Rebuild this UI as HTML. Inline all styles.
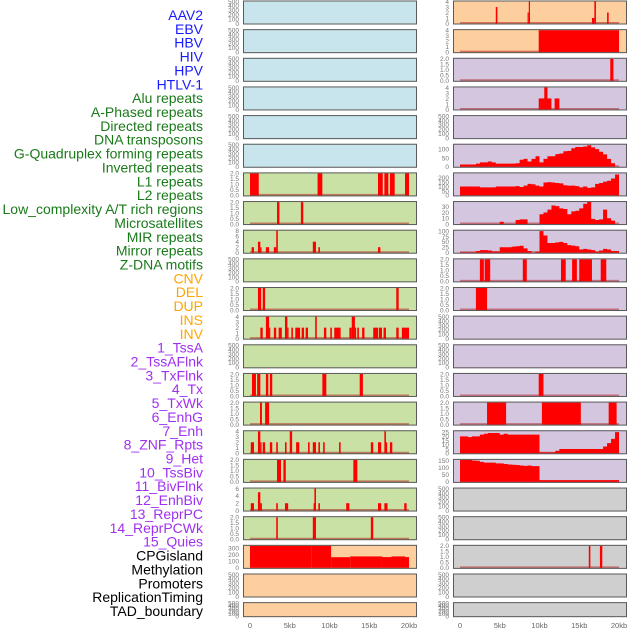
<!DOCTYPE html>
<html><head><meta charset="utf-8">
<style>
html,body{margin:0;padding:0;background:#fff;width:630px;height:630px;overflow:hidden}
svg{display:block}
text{font-family:"Liberation Sans",sans-serif}
</style></head>
<body>
<svg id="chart" width="630" height="630" viewBox="0 0 630 630" xmlns="http://www.w3.org/2000/svg"></svg>
<script>
// ---- labels ----
const labelNames = ["AAV2","EBV","HBV","HIV","HPV","HTLV-1","Alu repeats","A-Phased repeats","Directed repeats","DNA transposons","G-Quadruplex forming repeats","Inverted repeats","L1 repeats","L2 repeats","Low_complexity A/T rich regions","Microsatellites","MIR repeats","Mirror repeats","Z-DNA motifs","CNV","DEL","DUP","INS","INV","1_TssA","2_TssAFlnk","3_TxFlnk","4_Tx","5_TxWk","6_EnhG","7_Enh","8_ZNF_Rpts","9_Het","10_TssBiv","11_BivFlnk","12_EnhBiv","13_ReprPC","14_ReprPCWk","15_Quies","CPGisland","Methylation","Promoters","ReplicationTiming","TAD_boundary"];
const labelGroups = [6,13,5,15,5];
const groupColors = ["#1a1aff","#1a7a1a","#ffa500","#a030f0","#000000"];
const xTickLabels = ["0","5kb","10kb","15kb","20kb"];
const xTickValues = [0,5,10,15,20];

// ---- left column bar data [startKb, endKb, value] ----
const L6 = [[0,1.1,2],[8.5,9.1,2],[16.1,16.7,2],[16.9,17.4,2],[17.6,18.2,2],[19.5,20,2]];
const L7 = [[3.4,3.7,2],[6.4,6.7,2]];
const L8 = [[0.2,0.5,2],[1.0,1.3,4],[1.3,1.45,2],[2.0,2.4,2],[3.0,3.3,2],[3.3,3.5,8],[7.9,8.3,4],[8.6,8.8,2],[16.1,16.4,2]];
const L10 = [[1.0,1.4,2],[1.6,1.9,2],[18.4,18.7,2]];
const L11 = [[1.3,1.6,2],[2.0,2.4,4],[2.4,2.55,2],[3.0,3.3,2],[3.6,4.0,2],[4.4,4.7,4],[4.7,4.85,2],[5.2,5.4,2],[5.7,6.3,2],[6.5,6.8,2],[7.0,7.3,2],[8.2,8.4,4],[9.3,9.6,2],[10.1,10.3,2],[10.6,11.2,2],[11.2,11.4,2],[12.5,12.8,2],[12.8,13.2,4],[13.2,13.35,2],[13.5,13.7,2],[14.1,14.4,2],[15.5,16.1,2],[16.2,16.6,2],[16.8,17.1,2],[18.4,18.7,2],[19.1,20.0,2]];
const L13 = [[0.25,0.75,2],[0.9,1.3,2],[2.0,2.3,2],[2.5,2.8,2],[9.1,9.6,2],[13.8,14.2,2]];
const L14 = [[1.26,1.5,2],[1.9,2.4,2]];
const L15 = [[0.1,0.5,2],[1.0,1.3,4],[1.3,1.45,2],[1.6,1.9,2],[2.5,2.8,2],[3.3,3.5,2],[4.4,4.6,2],[5.0,5.3,4],[5.8,6.2,2],[7.3,7.5,2],[7.9,8.3,2],[8.6,8.8,2],[9.2,9.4,2],[11.2,11.4,2],[15.2,15.5,2],[16.1,16.5,2],[16.9,17.1,4],[17.1,17.25,2],[17.6,17.9,2]];
const L16 = [[3.4,3.9,2],[4.2,4.5,2],[13.0,13.5,2]];
const L17 = [[0.1,0.5,2],[1.0,1.3,5],[1.3,1.5,2],[3.3,3.5,2],[4.4,4.8,2],[8.0,8.1,2],[8.1,8.3,6],[8.6,8.8,2],[12.1,12.5,2],[16.1,16.5,2],[16.9,17.3,2],[19.4,19.7,2]];
const L18 = [[3.3,3.5,2],[7.9,8.3,2],[15.2,15.5,2]];
const L19 = [[0,7.7,340],[7.7,10.2,345],[10.2,12.6,163],[12.6,16.6,175],[16.6,17.8,165],[17.8,19.5,175],[19.5,20,165]];

// ---- right column bar data ----
const R0 = [[4.5,4.7,3],[8.5,8.65,2],[8.65,8.8,4],[16.6,16.9,1],[16.9,17.1,4],[18.5,18.7,2]];
const R1 = [[9.9,20,4.2]];
const R2 = [[18.9,19.3,2]];
const R3 = [[9.9,11.5,2],[10.6,11.0,4],[11.9,12.5,2]];
const R9 = [[2.5,3.0,2],[3.1,3.8,2],[7.9,8.4,2],[12.7,13.3,2],[14.1,14.7,2],[15.0,16.6,2],[17.7,18.4,2]];
const R10 = [[2.0,3.4,2]];
const R13 = [[9.9,10.5,2]];
const R14 = [[3.4,5.8,2],[10.3,15.2,2],[18.7,19.7,2]];
const R19 = [[16.2,16.4,2],[17.6,17.9,2]];

// ---- right column area data: 40 bins of 0.5kb ----
const R5 = [13,13,13,13,18,25,25,30,25,18,18,18,18,18,20,40,45,30,45,60,25,45,60,60,72,75,88,90,105,112,112,115,122,110,100,85,70,45,20,0];
const R6 = [100,100,100,100,100,90,90,90,90,100,100,100,100,100,105,95,110,130,125,110,100,145,150,145,140,135,115,110,110,105,90,100,85,90,130,140,155,165,190,235];
const R7 = [0,0,0,0,0,0,0,0,0,0,4,0,0,0,7,8,8,0,0,0,17,20,25,32,31,27,26,17,22,23,27,35,38,9,7,8,25,10,6,0];
const R8 = [2,2,2,2,8,12,12,10,6,6,25,25,25,28,30,32,20,8,0,5,100,80,45,45,48,50,45,35,33,30,15,18,15,12,5,10,18,15,8,8];
const R15 = [20,20,19,20,20,22,23,24,24,24,22,23,22,22,22,22,22,22,22,22,1,1,1,1,3,5,5,5,5,5,5,5,5,5,5,5,8,12,17,25];
const R16 = [155,155,155,150,148,140,135,135,135,130,130,125,122,120,118,115,112,115,110,110,12,12,12,12,12,12,12,12,12,12,12,12,12,12,12,12,12,12,12,12];

const T2 = [0,0.5,1,1.5,2], T4=[0,1,2,3,4], T8=[0,2,4,6,8], T6=[0,2,4,6], TE=[0,100,200,300,400,500];
const BLUE="#c8e4ec", GREEN="#c9e1a5", ORANGE="#fecf9e", PURPLE="#d5c6e0", GRAY="#cfcfcf";

const leftTracks = [
 {bg:BLUE,ticks:TE,yMax:500},{bg:BLUE,ticks:TE,yMax:500},{bg:BLUE,ticks:TE,yMax:500},
 {bg:BLUE,ticks:TE,yMax:500},{bg:BLUE,ticks:TE,yMax:500},{bg:BLUE,ticks:TE,yMax:500},
 {bg:GREEN,ticks:T2,yMax:2,bars:L6},{bg:GREEN,ticks:T2,yMax:2,bars:L7},{bg:GREEN,ticks:T8,yMax:8,bars:L8},
 {bg:GREEN,ticks:TE,yMax:500},{bg:GREEN,ticks:T2,yMax:2,bars:L10},{bg:GREEN,ticks:T4,yMax:4,bars:L11},
 {bg:GREEN,ticks:TE,yMax:500},{bg:GREEN,ticks:T2,yMax:2,bars:L13},{bg:GREEN,ticks:T2,yMax:2,bars:L14},
 {bg:GREEN,ticks:T4,yMax:4,bars:L15},{bg:GREEN,ticks:T2,yMax:2,bars:L16},{bg:GREEN,ticks:T6,yMax:6,bars:L17},
 {bg:GREEN,ticks:T2,yMax:2,bars:L18},{bg:ORANGE,ticks:[0,100,200,300],yMax:337,bars:L19,nobase:true},
 {bg:ORANGE,ticks:TE,yMax:500},{bg:ORANGE,ticks:TE,yMax:500}
];
const rightTracks = [
 {bg:ORANGE,ticks:T4,yMax:4,bars:R0},{bg:ORANGE,ticks:T4,yMax:4,bars:R1},{bg:PURPLE,ticks:T2,yMax:2,bars:R2},
 {bg:PURPLE,ticks:T4,yMax:4,bars:R3},{bg:PURPLE,ticks:TE,yMax:500},{bg:PURPLE,ticks:[0,50,100],yMax:125,area:R5},
 {bg:PURPLE,ticks:[0,50,100,150,200],yMax:248,area:R6},{bg:PURPLE,ticks:[0,10,20,30],yMax:38,area:R7},
 {bg:PURPLE,ticks:[0,25,50,75,100],yMax:102,area:R8},{bg:PURPLE,ticks:T2,yMax:2,bars:R9},
 {bg:PURPLE,ticks:T2,yMax:2,bars:R10},{bg:PURPLE,ticks:TE,yMax:500},{bg:PURPLE,ticks:TE,yMax:500},
 {bg:PURPLE,ticks:T2,yMax:2,bars:R13},{bg:PURPLE,ticks:T2,yMax:2,bars:R14},
 {bg:PURPLE,ticks:[0,5,10,15,20,25],yMax:26,area:R15},{bg:PURPLE,ticks:[0,50,100,150],yMax:154,area:R16},
 {bg:GRAY,ticks:TE,yMax:500},{bg:GRAY,ticks:TE,yMax:500},{bg:GRAY,ticks:T2,yMax:2,bars:R19},
 {bg:GRAY,ticks:TE,yMax:500},{bg:GRAY,ticks:TE,yMax:500}
];

const NS="http://www.w3.org/2000/svg";
const svg=document.getElementById('chart');
function mk(tag,attrs,parent){const e=document.createElementNS(NS,tag);for(const k in attrs)e.setAttribute(k,attrs[k]);(parent||svg).appendChild(e);return e;}

// labels
let li=0;
labelGroups.forEach((n,g)=>{for(let j=0;j<n;j++){
  const t=mk('text',{x:203,y:15+li*13.86+5,'text-anchor':'end','font-size':14,fill:groupColors[g]});
  t.textContent=labelNames[li];
  
  
  li++;}});

function fmt(v,ticks){return ticks.some(t=>t%1!==0)?v.toFixed(1):String(v);}

function drawColumn(tracks,x0,x1,xZero,colName){
  const kb=v=>xZero+v*7.95;
  tracks.forEach((tr,i)=>{
    const top=i*28.65+0.5, h=(i===21)?15:24, bot=top+h;
    const g=mk('g',{});
    
    
    mk('rect',{x:x0,y:top,width:x1-x0,height:h,fill:tr.bg},g);
    const y=v=>bot-1-Math.min(v,tr.yMax)/tr.yMax*(h-2);
    if(tr.bars||tr.area){
      if(!tr.nobase) mk('line',{x1:kb(0),x2:kb(20),y1:bot-1.5,y2:bot-1.5,stroke:'rgba(170,0,0,0.45)','stroke-width':2},g);
    }
    if(tr.bars){tr.bars.forEach(b=>{
      const r=mk('rect',{x:kb(b[0]),y:y(b[2]),width:Math.max(1.2,kb(b[1])-kb(b[0])),height:bot-1-y(b[2]),fill:'#ff0000'},g);
      
      
    });}
    if(tr.area){
      let d='M'+kb(0)+','+(bot-1);
      tr.area.forEach((v,k)=>{d+=' L'+kb(k*0.5)+','+y(v)+' L'+kb((k+1)*0.5)+','+y(v);});
      d+=' L'+kb(20)+','+(bot-1)+' Z';
      const p=mk('path',{d:d,fill:'#ff0000'},g);
      
      
    }
    mk('rect',{x:x0+0.5,y:top+0.5,width:x1-x0-1,height:h-1,fill:'none',stroke:'#5a5a5a','stroke-width':1},g);
    tr.ticks.forEach(t=>{
      const tx=mk('text',{x:x0-4,y:y(t)+2.3,'text-anchor':'end','font-size':6.5,fill:'#777'},g);
      tx.textContent=fmt(t,tr.ticks);
    });
  });
  xTickValues.forEach((v,k)=>{
    const t=mk('text',{x:kb(v),y:628,'text-anchor':'middle','font-size':7.5,fill:'#666'});
    t.textContent=xTickLabels[k];
    
    
  });
}
drawColumn(leftTracks,243,417,250,'left');
drawColumn(rightTracks,453,627,460,'right');
</script>
</body></html>
